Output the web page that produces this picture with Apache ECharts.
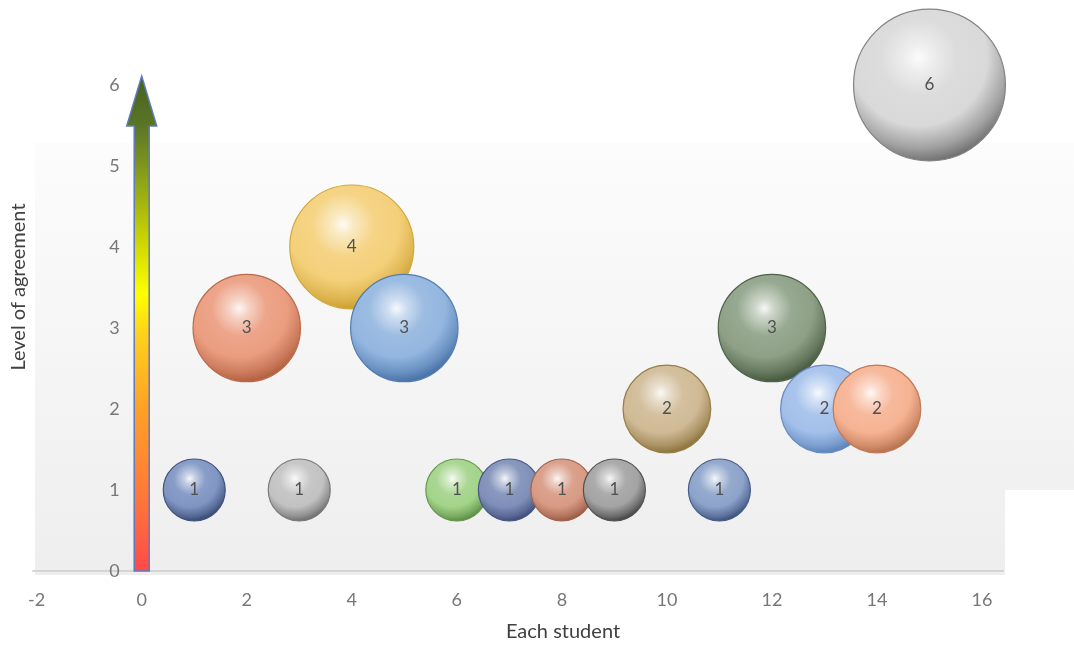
<!DOCTYPE html>
<html>
<head>
<meta charset="utf-8">
<script src="https://cdn.jsdelivr.net/npm/echarts@6/dist/echarts.min.js"></script>
<style>
  html, body { margin: 0; padding: 0; background: #ffffff; }
  #chart { width: 1074px; height: 649px; }
</style>
</head>
<body>
<div id="chart"></div>
<script>
// Each student's position and level of agreement (bubble value = level)
const students  = [1, 2, 3, 4, 5, 6, 7, 8, 9, 10, 11, 12, 13, 14, 15];
const agreement = [1, 3, 1, 4, 3, 1, 1, 1, 1, 2, 1, 3, 2, 2, 6];

// Axis ranges and tick labels
const xMin = -2.07, xMax = 16.4;
const xTicks = [-2, 0, 2, 4, 6, 8, 10, 12, 14, 16];
const yMin = 0, yMax = 6, yStep = 1;

// Vertical gradient arrow along x = 0
const arrowX = 0, arrowFrom = 0, arrowTo = 6.11;

// Sphere base colours and rim colours, one per student
const baseColors = ['#7f95c3', '#eb9d80', '#c2c2c2', '#f4d07a', '#93b6e0', '#a3d48a', '#7f8fb8', '#d89a84',
                    '#a4a4a4', '#d0ba96', '#8ca3ca', '#8ea187', '#a3c0ea', '#f6b393', '#d9d9d9'];
const rimColors  = ['#27375e', '#a65432', '#5a5a5a', '#c4961f', '#37639c', '#4b7d32', '#2f3d6c', '#8a4c34',
                    '#2e2e2e', '#7d6427', '#2a3e6c', '#34492e', '#4d76b0', '#a9623e', '#5e5e5e'];

// Canvas grid geometry
const gridLeft = 33, gridRight = 71;
const plotWidth = 1074 - gridLeft - gridRight;
const zeroOffset = (0 - xMin) / (xMax - xMin) * plotWidth;

function mix(hex, target, t) {
  const a = parseInt(hex.slice(1), 16), b = parseInt(target.slice(1), 16);
  const ch = (v, s) => (v >> s) & 255;
  const c = [16, 8, 0].map(s => Math.round(ch(a, s) + (ch(b, s) - ch(a, s)) * t));
  return 'rgb(' + c.join(',') + ')';
}

function sphere(base, rim) {
  return {
    type: 'radial', x: 0.43, y: 0.32, r: 0.72,
    colorStops: [
      { offset: 0.0, color: mix(base, '#ffffff', 0.92) },
      { offset: 0.12, color: mix(base, '#ffffff', 0.55) },
      { offset: 0.35, color: mix(base, '#ffffff', 0.08) },
      { offset: 0.62, color: base },
      { offset: 0.82, color: mix(base, rim, 0.45) },
      { offset: 1.0, color: rim }
    ]
  };
}

const bubbleData = students.map((s, i) => ({
  value: [s, agreement[i], agreement[i]],
  itemStyle: {
    color: sphere(baseColors[i], rimColors[i]),
    borderColor: mix(rimColors[i], baseColors[i], 0.3),
    borderWidth: 1.2,
    opacity: 1
  }
}));

const chart = echarts.init(document.getElementById('chart'), null, { renderer: 'canvas' });

const font = 'Lato, "Open Sans", sans-serif';

chart.setOption({
  backgroundColor: '#ffffff',
  animation: false,
  textStyle: { fontFamily: font },
  grid: { left: gridLeft, right: gridRight, top: 85, bottom: 78, containLabel: false, outerBoundsMode: 'none' },
  graphic: [
    {
      type: 'polygon', z: -10, silent: true,
      shape: { points: [[35, 143], [1074, 143], [1074, 490], [1005, 490], [1005, 575], [35, 575]] },
      style: {
        fill: { type: 'linear', x: 0, y: 0, x2: 0, y2: 1,
                colorStops: [{ offset: 0, color: '#fcfcfc' }, { offset: 1, color: '#eeeeee' }] }
      }
    }
  ],
  xAxis: {
    type: 'value', min: xMin, max: xMax,
    name: 'Each student', nameLocation: 'middle', nameGap: 51,
    nameTextStyle: { color: '#404040', fontSize: 20, fontFamily: font, padding: [0, 0, 0, 90] },
    axisLine: { show: true, onZero: true, lineStyle: { color: '#d4d4d4', width: 2 } },
    axisTick: { show: false },
    splitLine: { show: false },
    axisLabel: { customValues: xTicks, color: '#777777', fontSize: 18, margin: 20, fontFamily: font }
  },
  yAxis: {
    type: 'value', min: yMin, max: yMax, interval: yStep,
    offset: -zeroOffset,
    name: 'Level of agreement', nameLocation: 'middle', nameGap: 113, nameRotate: 90,
    nameTextStyle: { color: '#404040', fontSize: 20, fontFamily: font, padding: [0, 0, 0, 82] },
    axisLine: { show: false, onZero: false },
    axisTick: { show: false },
    splitLine: { show: false },
    axisLabel: { color: '#777777', fontSize: 18, margin: 22, fontFamily: font }
  },
  series: [
    {
      type: 'custom',
      z: 1,
      silent: true,
      clip: false,
      data: [[arrowX, arrowFrom, arrowTo]],
      renderItem: function (params, api) {
        const bottom = api.coord([api.value(0), api.value(1)]);
        const tip = api.coord([api.value(0), api.value(2)]);
        const cx = bottom[0];
        const shaftHalf = 7.5, headHalf = 15, headLen = 50;
        const headBase = tip[1] + headLen;
        return {
          type: 'polygon',
          shape: {
            points: [
              [cx - shaftHalf, bottom[1]], [cx - shaftHalf, headBase], [cx - headHalf, headBase],
              [cx, tip[1]], [cx + headHalf, headBase], [cx + shaftHalf, headBase], [cx + shaftHalf, bottom[1]]
            ]
          },
          style: {
            fill: {
              type: 'linear', x: 0, y: 0, x2: 0, y2: 1,
              colorStops: [
                { offset: 0.0, color: '#45601f' },
                { offset: 0.1, color: '#5b7526' },
                { offset: 0.18, color: '#7d951d' },
                { offset: 0.34, color: '#cfd800' },
                { offset: 0.44, color: '#ffff00' },
                { offset: 0.52, color: '#ffd21a' },
                { offset: 0.67, color: '#ffa126' },
                { offset: 0.84, color: '#ff7a38' },
                { offset: 1.0, color: '#ff4a4a' }
              ]
            },
            stroke: '#5f79bd', lineWidth: 1.5
          }
        };
      }
    },
    {
      type: 'scatter',
      z: 3,
      data: bubbleData,
      symbol: 'circle',
      symbolSize: function (val) { return 62 * Math.sqrt(val[2]); },
      itemStyle: { opacity: 1 },
      label: {
        show: true, position: 'inside',
        formatter: function (p) { return p.value[2]; },
        color: '#505050', fontSize: 17, fontFamily: font
      },
      emphasis: { disabled: true }
    }
  ]
});
</script>
</body>
</html>
